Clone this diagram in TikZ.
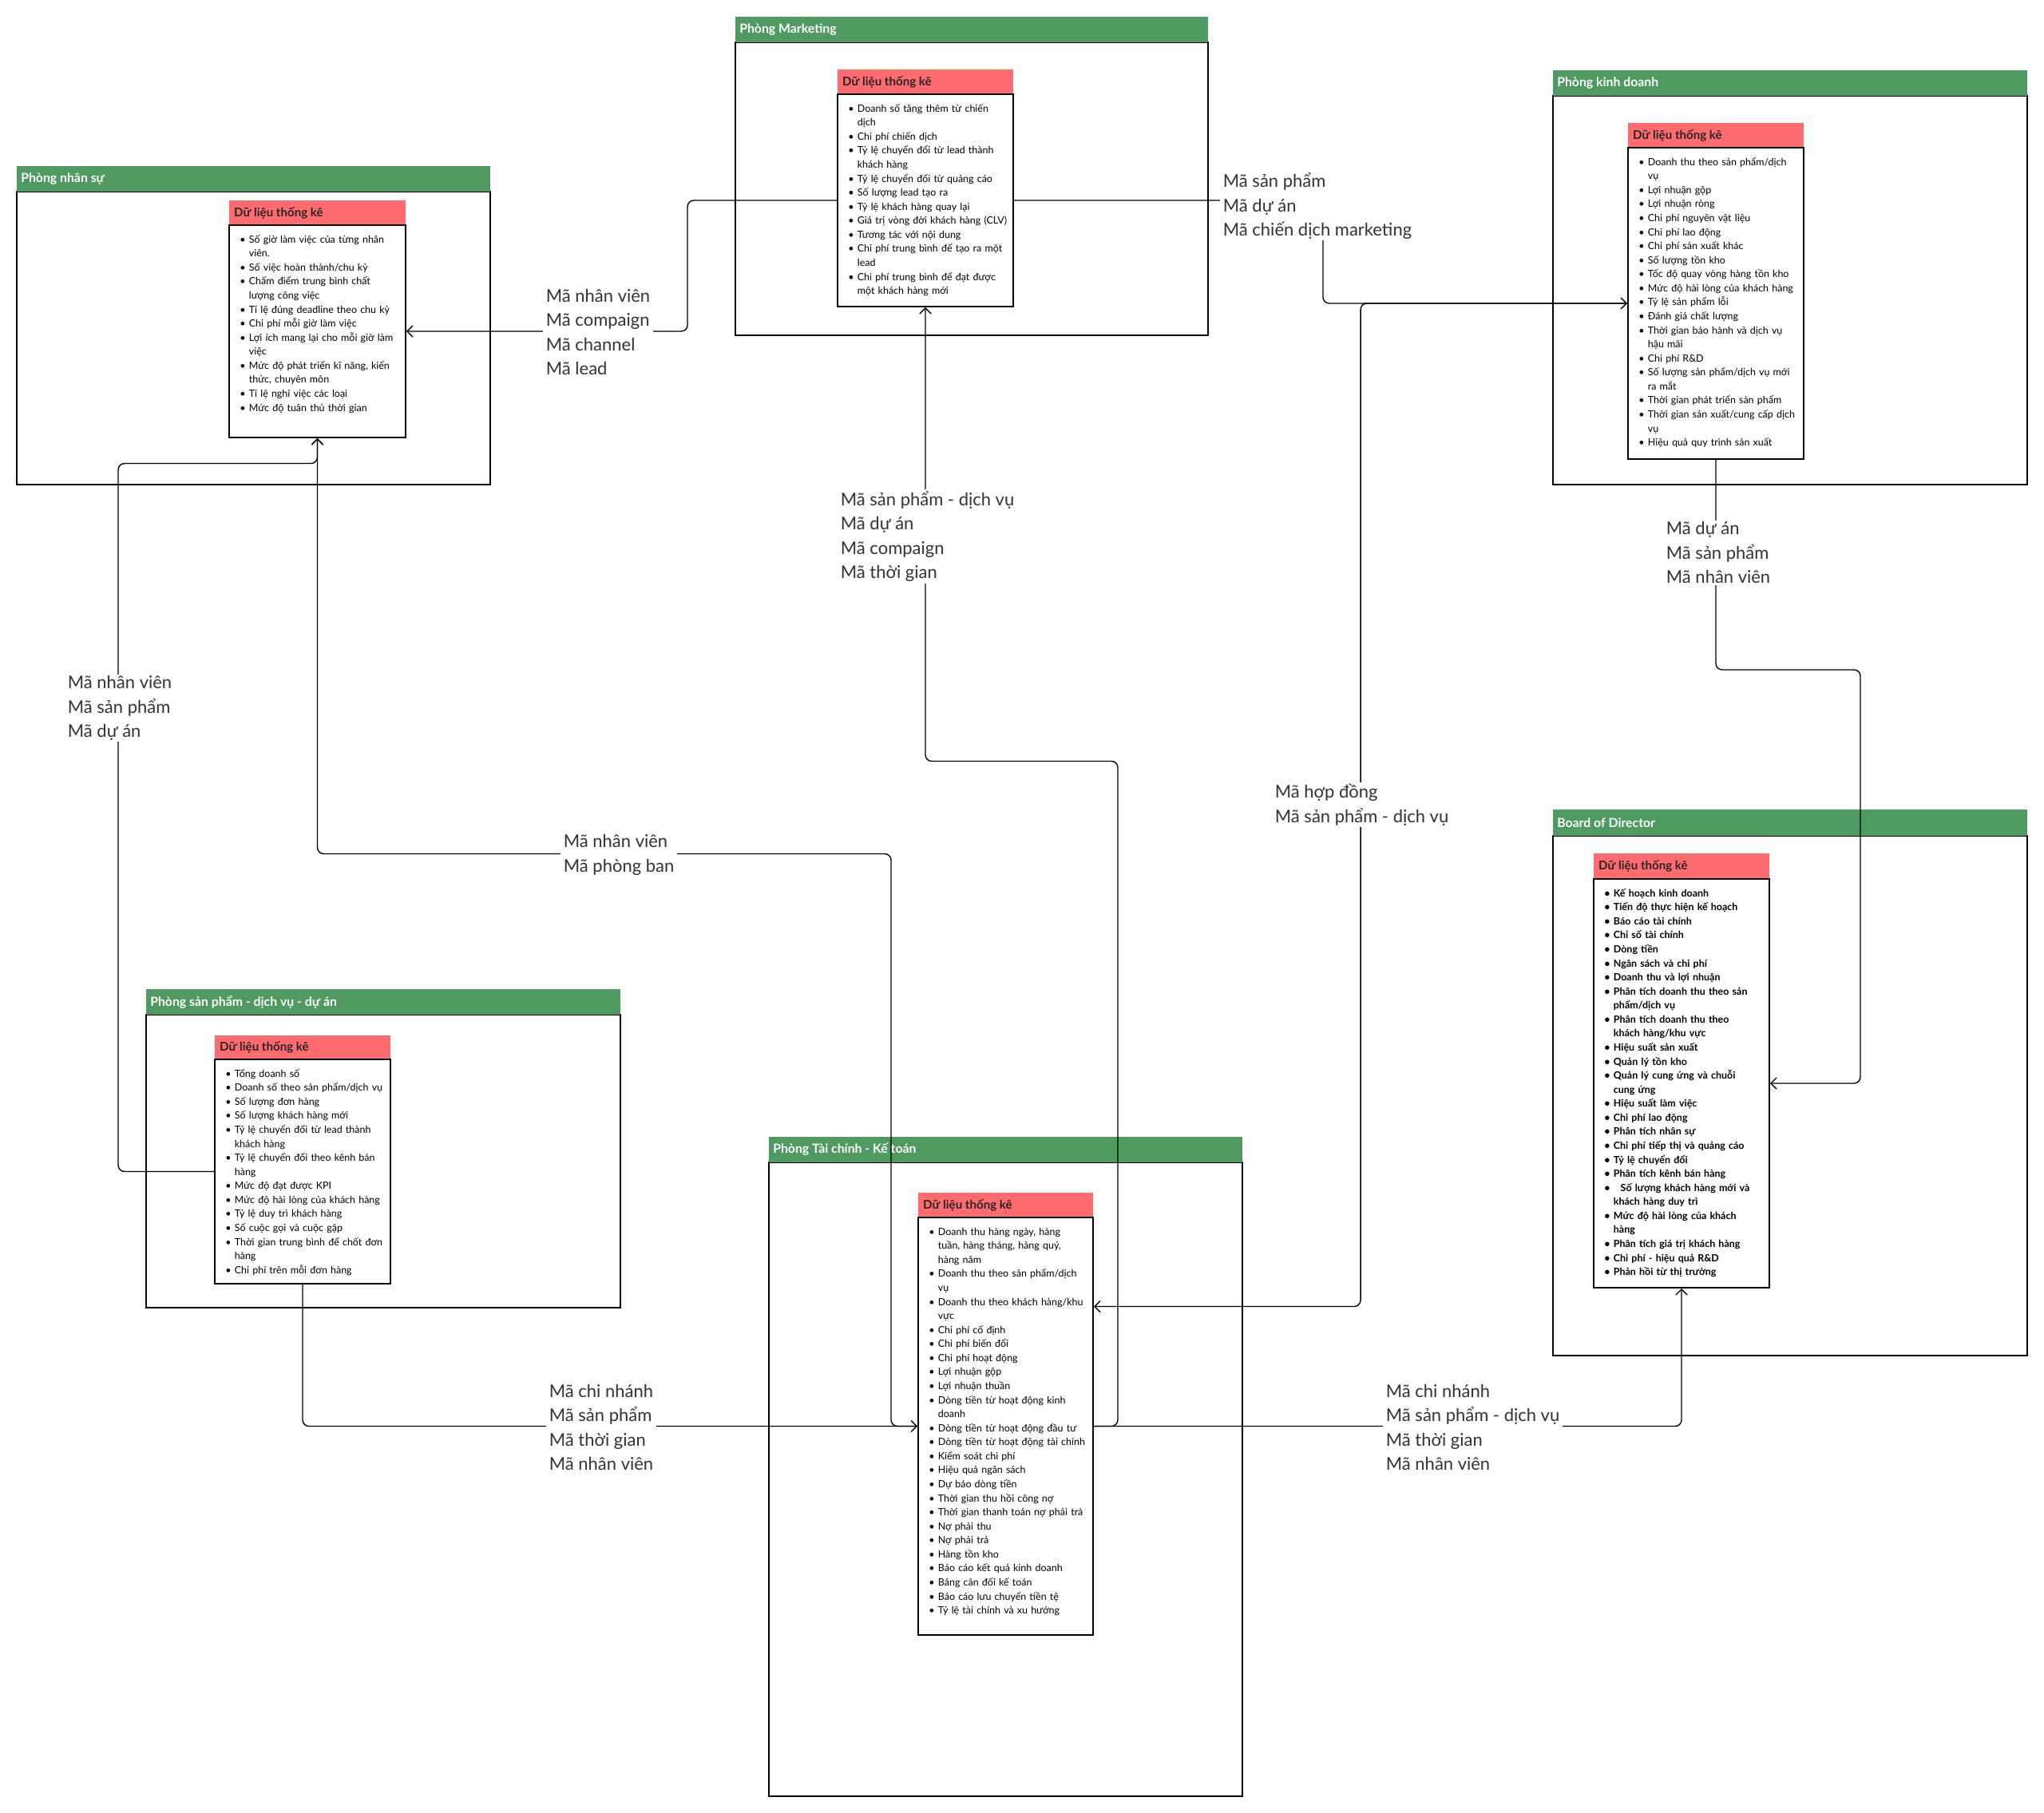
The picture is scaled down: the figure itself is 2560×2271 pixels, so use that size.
\documentclass[tikz,border=0pt]{standalone}
\usepackage{fontspec}
\setmainfont{Lato}
\usepackage{xcolor}
\usepackage{tikz}
\usetikzlibrary{arrows.meta, positioning, fit}

\definecolor{hdgreen}{HTML}{4F9A61}
\definecolor{hdred}{HTML}{FF6B6E}
\newcommand{\itm}{\par\noindent\hangindent=14.5pt\hangafter=1\hspace*{8pt}\makebox[6.5pt][l]{\textbullet}\ignorespaces}

\begin{document}
\begin{tikzpicture}[
    x=0.02cm, y=-0.02cm,
    dept/.style={draw, line width=1.1pt, fill=white, inner sep=0pt},
    depthead/.style={fill=hdgreen, inner sep=0pt},
    deptname/.style={anchor=west, inner xsep=3pt, text=white, font=\fontsize{9}{11}\selectfont\bfseries},
    stathead/.style={fill=hdred, inner sep=0pt},
    statname/.style={anchor=west, inner xsep=3.5pt, text=black!85, font=\fontsize{8.6}{10}\selectfont\bfseries},
    statbox/.style={draw, line width=1.1pt, fill=white, inner sep=0pt},
    statlist/.style={anchor=north west, text width=140pt, align=left, inner sep=0pt, yshift=-3pt, font=\fontsize{7.1}{10}\selectfont},
    key/.style={anchor=west, fill=white, align=left, inner xsep=2pt, inner ysep=1pt, text=black!80, font=\fontsize{12.5}{17.4}\selectfont},
    arrow/.style={-{Straight Barb[length=4pt,width=8pt]}, line width=0.8pt, rounded corners=4.5pt}
]
\fill[white] (0,0) rectangle (2560,2271);
\useasboundingbox (0,0) rectangle (2560,2271);

% departments
\node[dept, fit={(21,240) (614,607)}] (hr) {};
\node[depthead, fit={(21,208) (614,240)}] (hrh) {};
\node[deptname] (hrn) at (hrh.west) {Phòng nhân sự};

\node[dept, fit={(921,53) (1513,420)}] (mkt) {};
\node[depthead, fit={(921,21) (1513,53)}] (mkth) {};
\node[deptname] (mktn) at (mkth.west) {Phòng Marketing};

\node[dept, fit={(1945,120) (2539,607)}] (kd) {};
\node[depthead, fit={(1945,88) (2539,120)}] (kdh) {};
\node[deptname] (kdn) at (kdh.west) {Phòng kinh doanh};

\node[dept, fit={(1945,1047) (2539,1698)}] (bod) {};
\node[depthead, fit={(1945,1014) (2539,1047)}] (bodh) {};
\node[deptname] (bodn) at (bodh.west) {Board of Director};

\node[dept, fit={(183,1271) (777,1638)}] (sp) {};
\node[depthead, fit={(183,1239) (777,1271)}] (sph) {};
\node[deptname] (spn) at (sph.west) {Phòng sản phẩm - dịch vụ - dự án};

\node[dept, fit={(963,1456) (1556,2250)}] (tc) {};
\node[depthead, fit={(963,1424) (1556,1456)}] (tch) {};
\node[deptname] (tcn) at (tch.west) {Phòng Tài chính - Kế toán};

% statistics
\node[stathead, fit={(287,251) (508,282)}] (hrt) {};
\node[statname] (hrtn) at (hrt.west) {Dữ liệu thống kê};
\node[statbox, fit={(287,282) (508,548)}] (hrl) {};
\node[statlist] (hrx) at (hrl.north west) {%
\itm Số giờ làm việc của từng nhân\newline viên.
\itm Số việc hoàn thành/chu kỳ
\itm Chấm điểm trung bình chất\newline lượng công việc
\itm Tỉ lệ đúng deadline theo chu kỳ
\itm Chi phí mỗi giờ làm việc
\itm Lợi ích mang lại cho mỗi giờ làm\newline việc
\itm Mức độ phát triển kĩ năng, kiến\newline thức, chuyên môn
\itm Tỉ lệ nghỉ việc các loại
\itm Mức độ tuân thủ thời gian\par};

\node[stathead, fit={(1049,87) (1269,118)}] (mktt) {};
\node[statname] (mkttn) at (mktt.west) {Dữ liệu thống kê};
\node[statbox, fit={(1049,118) (1269,384)}] (mktl) {};
\node[statlist] (mktx) at (mktl.north west) {%
\itm Doanh số tăng thêm từ chiến\newline dịch
\itm Chi phí chiến dịch
\itm Tỷ lệ chuyển đổi từ lead thành\newline khách hàng
\itm Tỷ lệ chuyển đổi từ quảng cáo
\itm Số lượng lead tạo ra
\itm Tỷ lệ khách hàng quay lại
\itm Giá trị vòng đời khách hàng (CLV)
\itm Tương tác với nội dung
\itm Chi phí trung bình để tạo ra một\newline lead
\itm Chi phí trung bình để đạt được\newline một khách hàng mới\par};

\node[stathead, fit={(2039,154) (2259,185)}] (kdt) {};
\node[statname] (kdtn) at (kdt.west) {Dữ liệu thống kê};
\node[statbox, fit={(2039,185) (2259,575)}] (kdl) {};
\node[statlist] (kdx) at (kdl.north west) {%
\itm Doanh thu theo sản phẩm/dịch\newline vụ
\itm Lợi nhuận gộp
\itm Lợi nhuận ròng
\itm Chi phí nguyên vật liệu
\itm Chi phí lao động
\itm Chi phí sản xuất khác
\itm Số lượng tồn kho
\itm Tốc độ quay vòng hàng tồn kho
\itm Mức độ hài lòng của khách hàng
\itm Tỷ lệ sản phẩm lỗi
\itm Đánh giá chất lượng
\itm Thời gian bảo hành và dịch vụ\newline hậu mãi
\itm Chi phí R\&D
\itm Số lượng sản phẩm/dịch vụ mới\newline ra mắt
\itm Thời gian phát triển sản phẩm
\itm Thời gian sản xuất/cung cấp dịch\newline vụ
\itm Hiệu quả quy trình sản xuất\par};

\node[stathead, fit={(1996,1069) (2216,1101)}] (bodt) {};
\node[statname] (bodtn) at (bodt.west) {Dữ liệu thống kê};
\node[statbox, fit={(1996,1101) (2216,1613)}] (bodl) {};
\node[statlist, font=\fontsize{7.1}{10}\selectfont\bfseries] (bodx) at (bodl.north west) {%
\itm Kế hoạch kinh doanh
\itm Tiến độ thực hiện kế hoạch
\itm Báo cáo tài chính
\itm Chỉ số tài chính
\itm Dòng tiền
\itm Ngân sách và chi phí
\itm Doanh thu và lợi nhuận
\itm Phân tích doanh thu theo sản\newline phẩm/dịch vụ
\itm Phân tích doanh thu theo\newline khách hàng/khu vực
\itm Hiệu suất sản xuất
\itm Quản lý tồn kho
\itm Quản lý cung ứng và chuỗi\newline cung ứng
\itm Hiệu suất làm việc
\itm Chi phí lao động
\itm Phân tích nhân sự
\itm Chi phí tiếp thị và quảng cáo
\itm Tỷ lệ chuyển đổi
\itm Phân tích kênh bán hàng
\itm \hspace*{5pt}Số lượng khách hàng mới và\newline khách hàng duy trì
\itm Mức độ hài lòng của khách\newline hàng
\itm Phân tích giá trị khách hàng
\itm Chi phí - hiệu quả R\&D
\itm Phản hồi từ thị trường\par};

\node[stathead, fit={(269,1297) (489,1327)}] (spt) {};
\node[statname] (sptn) at (spt.west) {Dữ liệu thống kê};
\node[statbox, fit={(269,1327) (489,1608)}] (spl) {};
\node[statlist] (spx) at (spl.north west) {%
\itm Tổng doanh số
\itm Doanh số theo sản phẩm/dịch vụ
\itm Số lượng đơn hàng
\itm Số lượng khách hàng mới
\itm Tỷ lệ chuyển đổi từ lead thành\newline khách hàng
\itm Tỷ lệ chuyển đổi theo kênh bán\newline hàng
\itm Mức độ đạt được KPI
\itm Mức độ hài lòng của khách hàng
\itm Tỷ lệ duy trì khách hàng
\itm Số cuộc gọi và cuộc gặp
\itm Thời gian trung bình để chốt đơn\newline hàng
\itm Chi phí trên mỗi đơn hàng\par};

\node[stathead, fit={(1150,1494) (1369,1525)}] (tct) {};
\node[statname] (tctn) at (tct.west) {Dữ liệu thống kê};
\node[statbox, fit={(1150,1525) (1369,2048)}] (tcl) {};
\node[statlist] (tcx) at (tcl.north west) {%
\itm Doanh thu hàng ngày, hàng\newline tuần, hàng tháng, hàng quý,\newline hàng năm
\itm Doanh thu theo sản phẩm/dịch\newline vụ
\itm Doanh thu theo khách hàng/khu\newline vực
\itm Chi phí cố định
\itm Chi phí biến đổi
\itm Chi phí hoạt động
\itm Lợi nhuận gộp
\itm Lợi nhuận thuần
\itm Dòng tiền từ hoạt động kinh\newline doanh
\itm Dòng tiền từ hoạt động đầu tư
\itm Dòng tiền từ hoạt động tài chính
\itm Kiểm soát chi phí
\itm Hiệu quả ngân sách
\itm Dự báo dòng tiền
\itm Thời gian thu hồi công nợ
\itm Thời gian thanh toán nợ phải trả
\itm Nợ phải thu
\itm Nợ phải trả
\itm Hàng tồn kho
\itm Báo cáo kết quả kinh doanh
\itm Bảng cân đối kế toán
\itm Báo cáo lưu chuyển tiền tệ
\itm Tỷ lệ tài chính và xu hướng\par};

% links
\draw[arrow] (mktl.west) -- ++(-187,0) |- (hrl.east);
\draw[arrow] (mktl.east) -- ++(387,0) |- (kdl.west);
\draw[arrow] (kdl.west) -- ++(-334,0) |- ([yshift=3cm]tcl.east);
\draw[arrow] (kdl.south) -- ++(0,263) -- ++(181,0) |- (bodl.east);
\draw[arrow] (tcl.west) -- ++(-33,0) -- ++(0,-717) -| (hrl.south);
\draw[arrow] (spl.west) -- ++(-120,0) -- ++(0,-887) -| (hrl.south);
\draw[arrow] (spl.south) |- (tcl.west);
\draw[arrow] (tcl.east) -| (bodl.south);
\draw[arrow] (tcl.east) -- ++(30,0) -- ++(0,-833) -| (mktl.south);

\node[key] (mkt2hr) at (680,416) {Mã nhân viên\\Mã compaign\\Mã channel\\Mã lead};
\node[key] (mkt2kd) at (1528,258) {Mã sản phẩm\\Mã dự án\\Mã chiến dịch marketing};
\node[key] (kd2tc) at (1593,1008) {Mã hợp đồng\\Mã sản phẩm - dịch vụ};
\node[key] (kd2bod) at (2083,692) {Mã dự án\\Mã sản phẩm\\Mã nhân viên};
\node[key] (tc2hr) at (702,1071) {Mã nhân viên\\Mã phòng ban};
\node[key] (sp2hr) at (81,887) {Mã nhân viên\\Mã sản phẩm\\Mã dự án};
\node[key] (sp2tc) at (684,1788) {Mã chi nhánh\\Mã sản phẩm\\Mã thời gian\\Mã nhân viên};
\node[key] (tc2bod) at (1732,1788) {Mã chi nhánh\\Mã sản phẩm - dịch vụ\\Mã thời gian\\Mã nhân viên};
\node[key] (tc2mkt) at (1049,672) {Mã sản phẩm - dịch vụ\\Mã dự án\\Mã compaign\\Mã thời gian};
\end{tikzpicture}
\end{document}
